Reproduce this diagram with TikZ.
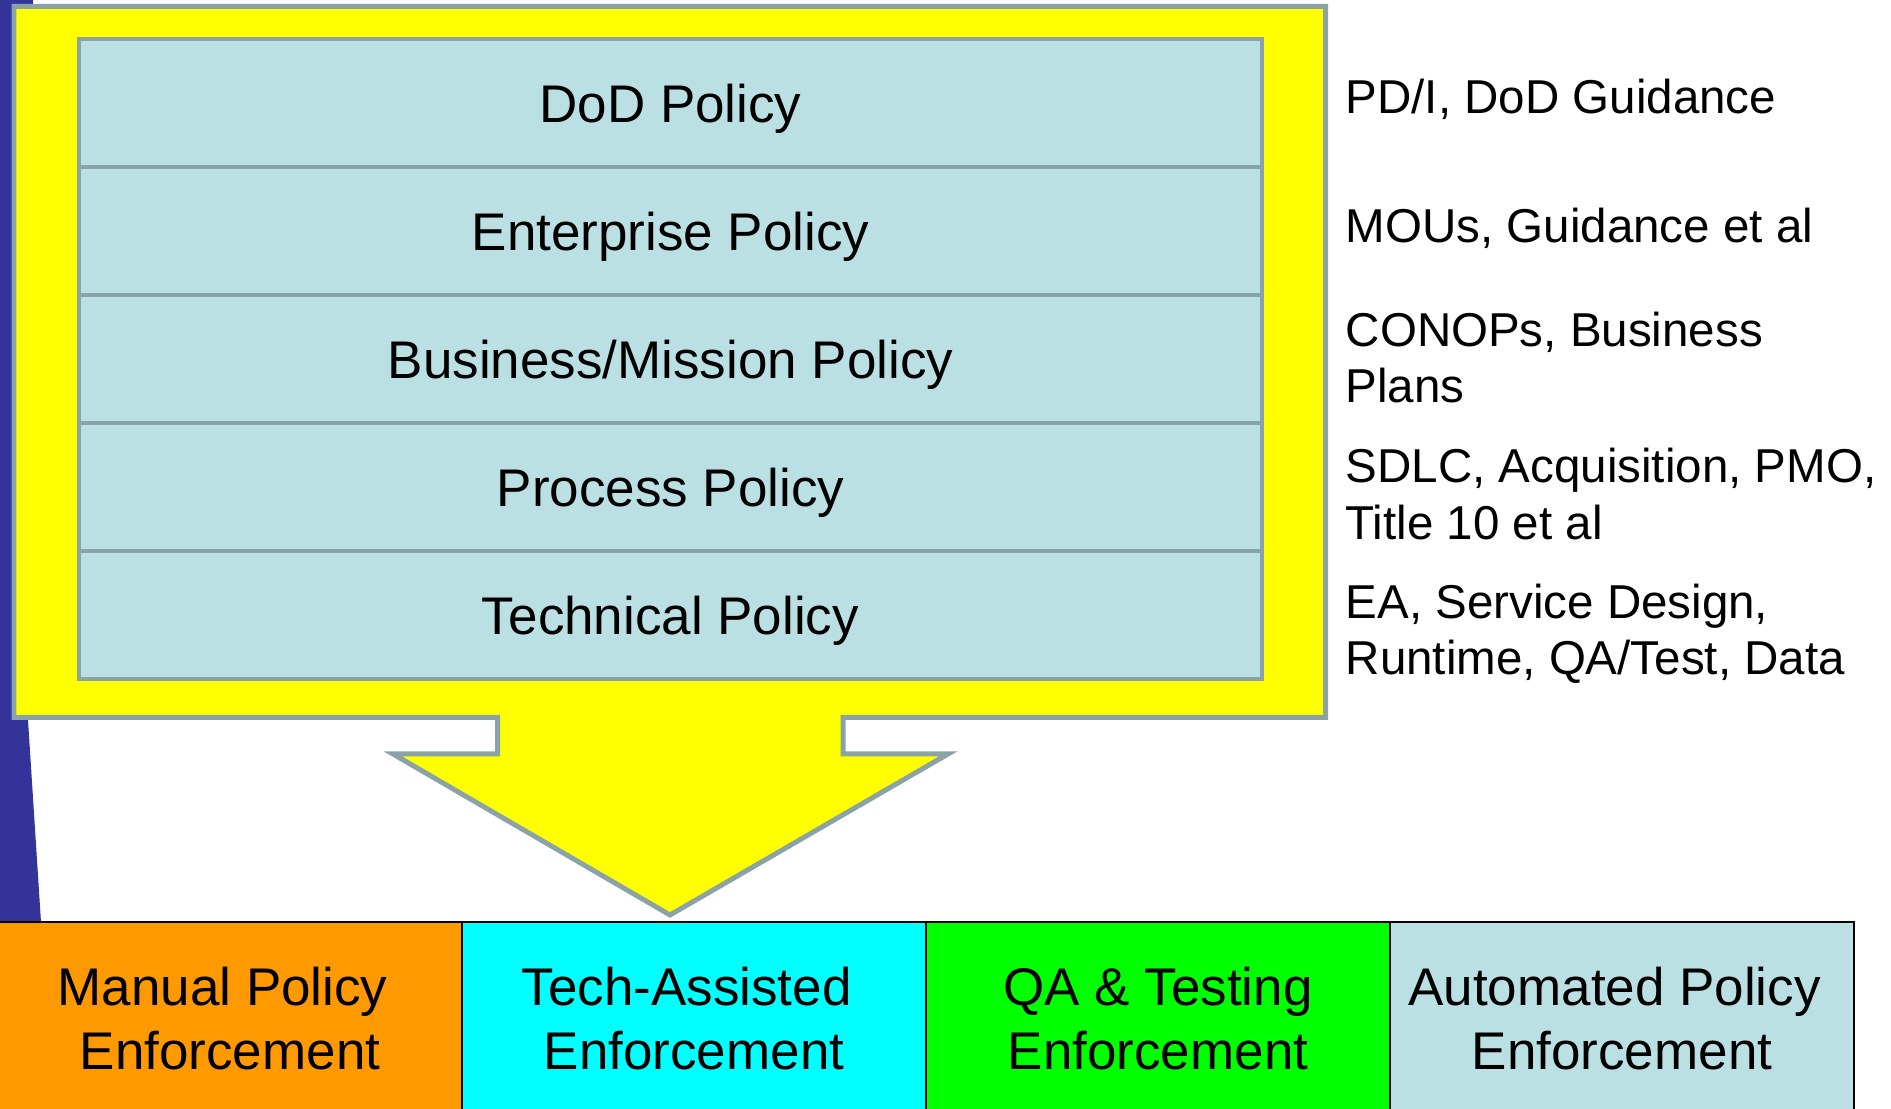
\documentclass[tikz,border=0pt]{standalone}
\usepackage{fontspec}
\setmainfont{Liberation Sans}
\usetikzlibrary{calc}

\definecolor{framegray}{HTML}{8BA3A6}
\definecolor{frameyellow}{HTML}{FFFF00}
\definecolor{rowblue}{HTML}{BBE0E3}
\definecolor{slideblue}{HTML}{333399}
\definecolor{manualorange}{HTML}{FF9900}
\definecolor{techcyan}{HTML}{00FFFF}
\definecolor{qagreen}{HTML}{00FF00}

\begin{document}
\begin{tikzpicture}
    \tikzstyle{policy frame} = [fill=frameyellow, draw=framegray, line width=1.42pt]
    \tikzstyle{policy row} = [fill=rowblue, draw=framegray, line width=1.14pt, minimum width=11.83cm, minimum height=1.281cm, inner sep=0pt, font=\fontsize{15.08}{18}\selectfont, text height=10.8pt, text depth=0pt]
    \tikzstyle{source text} = [anchor=base west, align=left, inner sep=0pt, font=\fontsize{13.52}{16.08}\selectfont]
    \tikzstyle{enforcement box} = [draw=black, line width=0.71pt, minimum width=4.64cm, minimum height=2.2cm, inner sep=0pt]
    \tikzstyle{enforcement text} = [anchor=base, align=center, inner sep=0pt, font=\fontsize{15.08}{18.01}\selectfont]

    \useasboundingbox (0,0) rectangle (18.91,11.09);

    \fill[slideblue] (0,11.09) -- (0.33,11.09) -- (0.33,11) -- (0.28,3.89) -- (0.41,1.87) -- (0,1.87) -- cycle;

    \draw[policy frame] (0.14,11.025) -- (13.255,11.025) -- (13.255,3.915) -- (8.43,3.915) -- (8.43,3.55)
        -- (9.48,3.55) -- (6.70,1.94) -- (3.93,3.55) -- (4.975,3.55) -- (4.975,3.915) -- (0.14,3.915) -- cycle;

    \node[policy row] (dod) at (6.705,10.0595) {DoD Policy};
    \node[policy row] (enterprise) at (6.705,8.7785) {Enterprise Policy};
    \node[policy row] (business) at (6.705,7.4975) {Business/Mission Policy};
    \node[policy row] (process) at (6.705,6.2165) {Process Policy};
    \node[policy row] (technical) at (6.705,4.9355) {Technical Policy};

    \node[source text] (dodsrc) at (13.45,9.952) {PD/I, DoD Guidance};
    \node[source text] (enterprisesrc) at (13.45,8.666) {MOUs, Guidance et al};
    \node[source text] (businesssrc) at (13.45,7.06) {CONOPs, Business\\Plans};
    \node[source text] (processsrc) at (13.45,5.697) {SDLC, Acquisition, PMO,\\Title 10 et al};
    \node[source text] (technicalsrc) at (13.45,4.34) {EA, Service Design,\\Runtime, QA/Test, Data};

    \node[enforcement box, fill=manualorange] (manual) at (2.30,0.77) {};
    \node[enforcement box, fill=techcyan] (assisted) at (6.94,0.77) {};
    \node[enforcement box, fill=qagreen] (qa) at (11.58,0.77) {};
    \node[enforcement box, fill=rowblue] (automated) at (16.22,0.77) {};

    \node[enforcement text] (manualtxt) at (2.30,0.397) {Manual Policy\hspace*{.28em}\\Enforcement};
    \node[enforcement text] (assistedtxt) at (6.94,0.397) {Tech-Assisted\hspace*{.28em}\\Enforcement};
    \node[enforcement text] (qatxt) at (11.58,0.397) {QA \& Testing\\Enforcement};
    \node[enforcement text] (automatedtxt) at (16.22,0.397) {Automated Policy\hspace*{.28em}\\Enforcement};

\end{tikzpicture}
\end{document}
